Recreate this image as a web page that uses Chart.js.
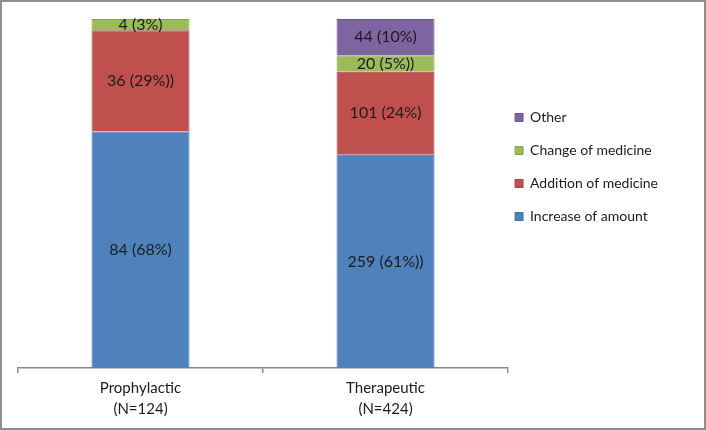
<!DOCTYPE html>
<html>
<head>
<meta charset="utf-8">
<script src="https://cdn.jsdelivr.net/npm/chart.js@4.4.1/dist/chart.umd.min.js"></script>
<style>
  html, body { margin: 0; padding: 0; background: #fff; }
  #wrap { width: 706px; height: 430px; box-sizing: border-box; border: 2px solid #8e8e8e; background: #fff; }
  canvas { display: block; }
</style>
</head>
<body>
<div id="wrap"><canvas id="chart" width="702" height="426"></canvas></div>
<script>
// categories and series
const categories = [['Prophylactic', '(N=124)'], ['Therapeutic', '(N=424)']];
const seriesNames = ['Increase of amount', 'Addition of medicine', 'Change of medicine', 'Other'];

const increaseOfAmount   = [84, 259];
const additionOfMedicine = [36, 101];
const changeOfMedicine   = [4, 20];
const otherChange        = [0, 44];

// text printed inside the segments (as in the original, typos included)
const increaseLabels = ['84 (68%)', '259 (61%))'];
const additionLabels = ['36 (29%))', '101 (24%)'];
const changeLabels   = ['4 (3%)', '20 (5%))'];
const otherLabels    = [null, '44 (10%)'];

const seriesColors = ['#4f81bd', '#c0504d', '#9bbb59', '#8064a2'];
const seriesEdges  = ['#41709f', '#a54441', '#86a24a', '#6c5489'];

const counts = [increaseOfAmount, additionOfMedicine, changeOfMedicine, otherChange];
const textLabels = [increaseLabels, additionLabels, changeLabels, otherLabels];
const totals = categories.map((c, j) => counts.reduce((s, arr) => s + arr[j], 0));

const datasets = counts.map((arr, i) => ({
  label: seriesNames[i],
  data: arr.map((v, j) => v / totals[j] * 100),
  segLabels: textLabels[i],
  backgroundColor: seriesColors[i],
  borderColor: seriesEdges[i],
  borderWidth: 1,
  categoryPercentage: 1,
  barPercentage: 0.4
}));

const segLabels = {
  id: 'segLabels',
  afterDatasetsDraw(chart) {
    const ctx = chart.ctx;
    ctx.save();
    ctx.font = '16px Lato';
    ctx.fillStyle = '#1c1c1c';
    ctx.textAlign = 'center';
    ctx.textBaseline = 'middle';
    chart.data.datasets.forEach((ds, i) => {
      chart.getDatasetMeta(i).data.forEach((bar, j) => {
        const t = ds.segLabels[j];
        if (!t) return;
        ctx.fillText(t, bar.x, (bar.y + bar.base) / 2);
      });
    });
    ctx.restore();
  }
};

// nudge the legend block to where the original has it
const legendShift = {
  id: 'legendShift',
  afterLayout(chart) {
    const lg = chart.legend;
    lg.left -= 12; lg.right -= 12;
    lg.top -= 55; lg.bottom -= 55;
  }
};

new Chart(document.getElementById('chart'), {
  type: 'bar',
  data: { labels: categories, datasets },
  options: {
    responsive: false,
    animation: false,
    layout: { padding: { top: 17, left: 16, right: 24, bottom: 3 } },
    scales: {
      x: {
        stacked: true,
        grid: { drawOnChartArea: false, drawTicks: true, tickLength: 5, color: '#8a8a8a', lineWidth: 1.5 },
        border: { display: true, color: '#8a8a8a', width: 1.5 },
        ticks: { color: '#1c1c1c', padding: 5, font: { family: 'Lato', size: 15, lineHeight: 1.4 } }
      },
      y: { stacked: true, display: false, min: 0, max: 100 }
    },
    plugins: {
      legend: {
        position: 'right',
        reverse: true,
        labels: {
          boxWidth: 8, boxHeight: 8, padding: 19,
          color: '#1c1c1c',
          font: { family: 'Lato', size: 14 }
        }
      },
      tooltip: { enabled: false }
    }
  },
  plugins: [segLabels, legendShift]
});
</script>
</body>
</html>
